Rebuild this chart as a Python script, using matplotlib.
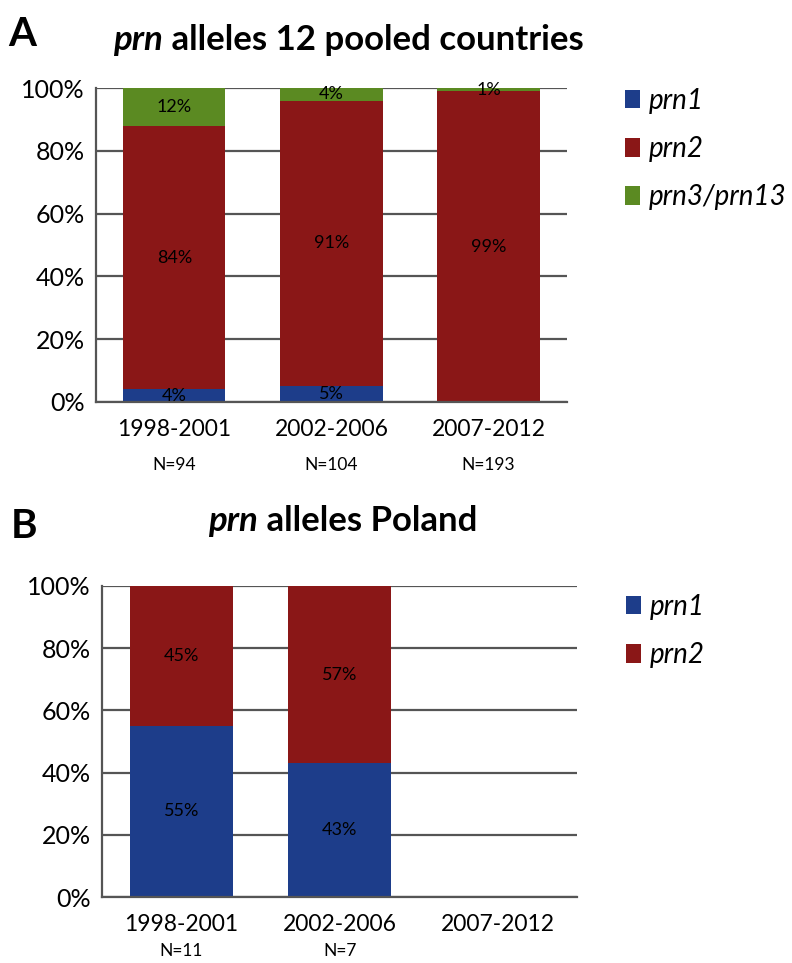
import matplotlib
matplotlib.use('Agg')
import matplotlib.pyplot as plt
import matplotlib.transforms as mtransforms
import numpy as np

plt.rcParams['font.family'] = ['Lato', 'DejaVu Sans']

# data
periods = ['1998-2001', '2002-2006', '2007-2012']
n_a = ['N=94', 'N=104', 'N=193']
a_prn1 = [4, 5, 0]
a_prn2 = [84, 91, 99]
a_prn3 = [12, 4, 1]

n_b = ['N=11', 'N=7', '']
b_prn1 = [55, 43, 0]
b_prn2 = [45, 57, 0]

blue = '#1d3d8a'
red = '#8a1717'
green = '#5b8a22'
gridc = '#555555'

fig = plt.figure(figsize=(7.92, 9.63), dpi=100)
axA = fig.add_axes([0.121, 0.5826, 0.595, 0.326])
axB = fig.add_axes([0.129, 0.0685, 0.600, 0.323])


def style_axis(ax, ns, n_y):
    ax.set_xlim(-0.5, 2.5)
    ax.set_ylim(0, 100)
    ax.set_yticks(np.arange(0, 101, 20))
    ax.set_yticklabels(['%d%%' % v for v in range(0, 101, 20)], fontsize=18)
    ax.set_xticks(range(3))
    ax.set_xticklabels(periods, fontsize=16.5)
    ax.tick_params(length=0, pad=8)
    ax.tick_params(axis='x', pad=12)
    ax.yaxis.grid(True, color=gridc, linewidth=1.6)
    ax.set_axisbelow(True)
    for s in ['top', 'right']:
        ax.spines[s].set_visible(False)
    for s in ['left', 'bottom']:
        ax.spines[s].set_color(gridc)
        ax.spines[s].set_linewidth(1.6)
    trans = mtransforms.blended_transform_factory(ax.transData, ax.transAxes)
    for i, n in enumerate(ns):
        ax.text(i, n_y, n, transform=trans, ha='center', va='center', fontsize=12.5)


def label_segments(ax, bottoms, vals):
    for i, (b, v) in enumerate(zip(bottoms, vals)):
        if v > 0:
            ax.text(i, b + v / 2.0, '%d%%' % v, ha='center', va='center', fontsize=13)


w = 0.65
x = np.arange(3)
leg_kw = dict(loc='upper left', frameon=False,
              prop={'style': 'italic', 'size': 20}, handlelength=0.55,
              handleheight=0.65, handletextpad=0.3, labelspacing=0.8)

# panel A
axA.bar(x, a_prn1, w, color=blue, label='prn1')
axA.bar(x, a_prn2, w, bottom=a_prn1, color=red, label='prn2')
bot3 = np.array(a_prn1) + np.array(a_prn2)
axA.bar(x, a_prn3, w, bottom=bot3, color=green, label='prn3/prn13')
style_axis(axA, n_a, -0.2)
label_segments(axA, [0, 0, 0], a_prn1)
label_segments(axA, a_prn1, a_prn2)
label_segments(axA, bot3, a_prn3)
axA.legend(bbox_to_anchor=(1.07, 1.08), **leg_kw)

# panel B
axB.bar(x, b_prn1, w, color=blue, label='prn1')
axB.bar(x, b_prn2, w, bottom=b_prn1, color=red, label='prn2')
style_axis(axB, n_b, -0.175)
label_segments(axB, [0, 0, 0], b_prn1)
label_segments(axB, b_prn1, b_prn2)
axB.legend(bbox_to_anchor=(1.05, 1.055), **leg_kw)

# titles and panel letters
fig.text(0.01, 0.964, 'A', fontsize=29, fontweight='bold', va='center')
fig.text(0.013, 0.453, 'B', fontsize=29, fontweight='bold', va='center')

tA1 = fig.text(0.143, 0.948, 'prn', fontsize=25, fontweight='bold',
               style='italic', ha='left', va='baseline')
axA.annotate(' alleles 12 pooled countries', xy=(1, 0), xycoords=tA1,
             fontsize=25, fontweight='bold', ha='left', va='bottom',
             annotation_clip=False)
tB1 = fig.text(0.263, 0.449, 'prn', fontsize=25, fontweight='bold',
               style='italic', ha='left', va='baseline')
axB.annotate(' alleles Poland', xy=(1, 0), xycoords=tB1,
             fontsize=25, fontweight='bold', ha='left', va='bottom',
             annotation_clip=False)

fig.savefig('out.png', dpi=100)
